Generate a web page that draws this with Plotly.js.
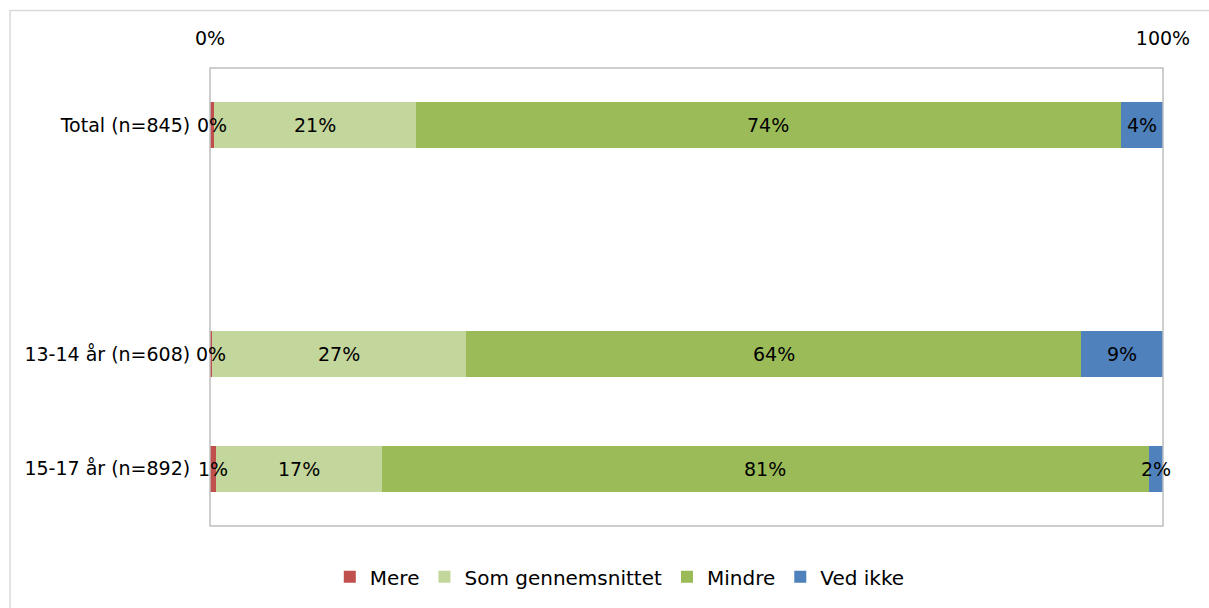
<!DOCTYPE html>
<html>
<head>
<meta charset="utf-8">
<script src="https://cdn.plot.ly/plotly-3.0.1.min.js"></script>
<style>
  html, body { margin: 0; padding: 0; background: #ffffff; }
  #chart { width: 1209px; height: 608px; }
</style>
</head>
<body>
<div id="chart"></div>
<script>
// Categories (a blank slot separates Total from the age groups)
const categories = ['Total (n=845)', ' ', '13-14 år (n=608)', '15-17 år (n=892)'];
const barCategories = ['Total (n=845)', '13-14 år (n=608)', '15-17 år (n=892)'];

// Series values (shares of 1)
const mere          = [0.004, 0.002, 0.006];
const somGennemsnit = [0.212, 0.267, 0.174];
const mindre        = [0.740, 0.645, 0.805];
const vedIkke       = [0.044, 0.086, 0.015];

// Data labels as printed in the chart
const mereLabels    = ['0%', '0%', '1%'];
const somLabels     = ['21%', '27%', '17%'];
const mindreLabels  = ['74%', '64%', '81%'];
const vedIkkeLabels = ['4%', '9%', '2%'];

// Axis tick labels
const xTickVals = [0, 1];
const xTickText = ['0%', '100%'];

const seriesNames = ['Mere', 'Som gennemsnittet', 'Mindre', 'Ved ikke'];
const seriesColors = ['#C0504D', '#C3D69B', '#9BBB59', '#4F81BD'];
const seriesValues = [mere, somGennemsnit, mindre, vedIkke];
const seriesLabels = [mereLabels, somLabels, mindreLabels, vedIkkeLabels];

const FONT = 'DejaVu Sans, Open Sans, sans-serif';

const traces = seriesNames.map((name, i) => ({
  type: 'bar',
  orientation: 'h',
  name: name,
  y: barCategories,
  x: seriesValues[i],
  textposition: 'none',
  marker: { color: seriesColors[i], line: { width: 0 } },
  width: 0.4,
  hoverinfo: 'skip'
}));

// Data labels centred on each segment (positions in data coordinates)
const annotations = [];
barCategories.forEach((cat, j) => {
  let start = 0;
  seriesValues.forEach((vals, i) => {
    annotations.push({
      x: start + vals[j] / 2,
      y: cat,
      xref: 'x', yref: 'y',
      text: seriesLabels[i][j],
      showarrow: false,
      xanchor: 'center', yanchor: 'middle',
      font: { family: FONT, size: 19, color: '#000000' }
    });
    start += vals[j];
  });
});

const layout = {
  width: 1209,
  height: 608,
  barmode: 'stack',
  paper_bgcolor: '#ffffff',
  plot_bgcolor: '#ffffff',
  margin: { l: 210, r: 46, t: 68, b: 80, pad: 0 },
  font: { family: FONT, size: 19, color: '#000000' },
  showlegend: true,
  legend: {
    orientation: 'h',
    x: 0.43, xanchor: 'center',
    y: -0.111, yanchor: 'middle',
    font: { family: FONT, size: 20, color: '#000000' },
    traceorder: 'normal',
    itemclick: false,
    itemdoubleclick: false
  },
  annotations: annotations,
  xaxis: {
    side: 'top',
    range: [0, 1],
    tickvals: xTickVals,
    ticktext: xTickText,
    ticks: 'outside',
    ticklen: 14,
    tickcolor: 'rgba(0,0,0,0)',
    showgrid: false,
    zeroline: false,
    showline: false,
    tickfont: { family: FONT, size: 19, color: '#000000' },
    fixedrange: true
  },
  yaxis: {
    type: 'category',
    categoryorder: 'array',
    categoryarray: categories,
    range: [3.5, -0.5],
    ticks: 'outside',
    ticklen: 15,
    tickcolor: 'rgba(0,0,0,0)',
    showgrid: false,
    zeroline: false,
    showline: false,
    tickfont: { family: FONT, size: 19, color: '#000000' },
    fixedrange: true
  },
  shapes: [
    {
      type: 'rect', xref: 'paper', yref: 'paper',
      x0: 0, x1: 1, y0: 0, y1: 1,
      line: { color: '#BFBFBF', width: 1.5 },
      fillcolor: 'rgba(0,0,0,0)',
      layer: 'above'
    },
    {
      type: 'rect', xref: 'paper', yref: 'paper',
      x0: -0.2098, x1: 1.06, y0: -0.2, y1: 1.1255,
      line: { color: '#D9D9D9', width: 1.5 },
      fillcolor: 'rgba(0,0,0,0)',
      layer: 'below'
    }
  ]
};

Plotly.newPlot('chart', traces, layout, { displayModeBar: false, staticPlot: true });
</script>
</body>
</html>
